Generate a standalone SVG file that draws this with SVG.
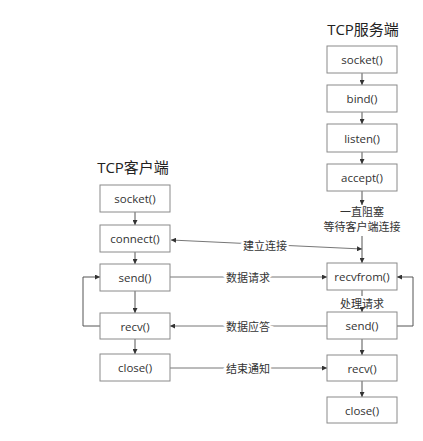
<svg xmlns="http://www.w3.org/2000/svg" width="423" height="441" viewBox="0 0 423 441">
<style>
.box{fill:#fff;stroke:#8a8a8a;stroke-width:1}
.t{font-family:"Open Sans","Noto Sans CJK SC",sans-serif;font-size:11.5px;fill:#333;text-anchor:middle;dominant-baseline:central}
.title{font-family:"Open Sans","Noto Sans CJK SC",sans-serif;font-size:15px;fill:#222;text-anchor:middle;dominant-baseline:central}
.lbl{font-family:"Noto Sans CJK SC",sans-serif;font-size:11px;fill:#333;text-anchor:middle;dominant-baseline:central;stroke:#fff;stroke-width:4;paint-order:stroke}
.note{font-family:"Noto Sans CJK SC",sans-serif;font-size:11px;fill:#333;text-anchor:middle;dominant-baseline:central}
.ln{fill:none;stroke:#555;stroke-width:1}
.cl{fill:none;stroke:#777;stroke-width:1}
</style>
<defs>
<marker id="ah" viewBox="0 0 6 6" refX="6" refY="3" markerWidth="5" markerHeight="5" markerUnits="userSpaceOnUse" orient="auto-start-reverse">
<path d="M0,0 L6,3 L0,6 Z" fill="#333"/>
</marker>
</defs>
<rect width="423" height="441" fill="#fff"/>
<text class="title" x="363" y="29">TCP服务端</text>
<text class="title" x="133" y="167">TCP客户端</text>
<g id="connectors">
<path class="ln" d="M362,73 V85" marker-end="url(#ah)"/>
<path class="ln" d="M362,112 V124" marker-end="url(#ah)"/>
<path class="ln" d="M362,152 V164" marker-end="url(#ah)"/>
<path class="ln" d="M362,191 V205" marker-end="url(#ah)"/>
<path class="ln" d="M362,236 V263" marker-end="url(#ah)"/>
<path class="ln" d="M362,290 V296"/>
<path class="ln" d="M362,309 V312" marker-end="url(#ah)"/>
<path class="ln" d="M362,339 V355" marker-end="url(#ah)"/>
<path class="ln" d="M362,381 V397" marker-end="url(#ah)"/>
<path class="ln" d="M135,212 V225" marker-end="url(#ah)"/>
<path class="ln" d="M135,252 V264" marker-end="url(#ah)"/>
<path class="ln" d="M135,291 V313" marker-end="url(#ah)"/>
<path class="ln" d="M135,339 V354" marker-end="url(#ah)"/>
<path class="ln" d="M100,326 H83 V277 H100" marker-end="url(#ah)"/>
<path class="ln" d="M397,326 H413 V277 H397" marker-end="url(#ah)"/>
<path class="cl" d="M171,240 L362,249" marker-start="url(#ah)" marker-end="url(#ah)"/>
<path class="cl" d="M170,277 H327" marker-end="url(#ah)"/>
<path class="cl" d="M327,326 H170" marker-end="url(#ah)"/>
<path class="cl" d="M170,368 H327" marker-end="url(#ah)"/>
<text class="lbl" x="265" y="245">建立连接</text>
<text class="lbl" x="248" y="277">数据请求</text>
<text class="lbl" x="248" y="326">数据应答</text>
<text class="lbl" x="248" y="368">结束通知</text>
<text class="note" x="362" y="211">一直阻塞</text>
<text class="note" x="362" y="226">等待客户端连接</text>
<text class="note" x="362" y="302.5">处理请求</text>
</g>
<g id="s_socket"><rect class="box" x="327" y="46" width="70" height="27"/><text class="t" x="362" y="59.5">socket()</text></g>
<g id="s_bind"><rect class="box" x="327" y="85" width="70" height="27"/><text class="t" x="362" y="98.5">bind()</text></g>
<g id="s_listen"><rect class="box" x="327" y="124" width="70" height="28"/><text class="t" x="362" y="138">listen()</text></g>
<g id="s_accept"><rect class="box" x="327" y="164" width="70" height="27"/><text class="t" x="362" y="177.5">accept()</text></g>
<g id="s_recvfrom"><rect class="box" x="327" y="263" width="70" height="27"/><text class="t" x="362" y="276.5">recvfrom()</text></g>
<g id="s_send"><rect class="box" x="327" y="312" width="70" height="27"/><text class="t" x="362" y="325.5">send()</text></g>
<g id="s_recv"><rect class="box" x="327" y="355" width="70" height="26"/><text class="t" x="362" y="368">recv()</text></g>
<g id="s_close"><rect class="box" x="327" y="397" width="70" height="26"/><text class="t" x="362" y="410">close()</text></g>
<g id="c_socket"><rect class="box" x="100" y="185" width="70" height="27"/><text class="t" x="135" y="198.5">socket()</text></g>
<g id="c_connect"><rect class="box" x="100" y="225" width="70" height="27"/><text class="t" x="135" y="238.5">connect()</text></g>
<g id="c_send"><rect class="box" x="100" y="264" width="70" height="27"/><text class="t" x="135" y="277.5">send()</text></g>
<g id="c_recv"><rect class="box" x="100" y="313" width="70" height="26"/><text class="t" x="135" y="326">recv()</text></g>
<g id="c_close"><rect class="box" x="100" y="354" width="70" height="27"/><text class="t" x="135" y="367.5">close()</text></g>
</svg>
